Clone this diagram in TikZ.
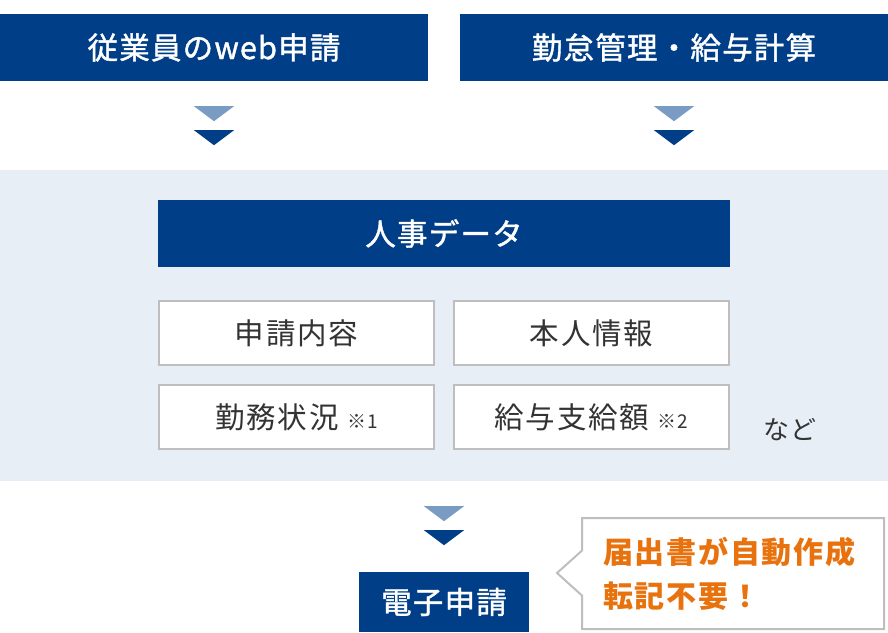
\documentclass[tikz,border=0pt]{standalone}
\usepackage{fontspec}
\setmainfont{Noto Sans CJK JP}[LetterSpace=6]
\newfontfamily\medfont{Noto Sans CJK JP}[LetterSpace=4, FakeBold=1.3]
\usetikzlibrary{positioning,calc,shapes.callouts}
\definecolor{AzulFlujo}{RGB}{0,63,135}
\definecolor{AzulClaro}{RGB}{122,156,196}
\definecolor{PanelFondo}{RGB}{232,238,245}
\definecolor{BordeGris}{RGB}{190,190,190}
\definecolor{TextoGris}{RGB}{51,51,51}
\definecolor{Naranja}{RGB}{232,115,14}
\tikzset{
  headbar/.style={fill=AzulFlujo, text=white, minimum width=#1, minimum height=67,
    inner sep=0pt, font=\medfont\fontsize{30.5}{32}\selectfont},
  headbar/.default=428,
  panelbg/.style={fill=PanelFondo, minimum width=888, minimum height=311, inner sep=0pt},
  itembox/.style={draw=BordeGris, line width=2pt, fill=white, text=TextoGris,
    minimum width=275, minimum height=64, inner sep=0pt, font=\fontsize{29.5}{31}\selectfont},
  notebox/.style={rectangle callout, draw=BordeGris, line width=2pt, fill=white,
    minimum width=302, minimum height=111, inner sep=0pt, callout pointer width=45,
    text=Naranja, align=left, text width=260, font=\fontsize{30}{44}\selectfont\bfseries},
}

\begin{document}
\begin{tikzpicture}[x=1pt, y=-1pt]
  \useasboundingbox (0,0) rectangle (888,632);
  \node[headbar] (web) at (214,47.5) {従業員のweb申請};
  \node[headbar] (kintai) at (674,47.5) {勤怠管理・給与計算};
  \node[panelbg] (panel) at (444,325.5) {};
  \node[headbar=572] (jinji) at (444,233.5) {人事データ};
  \node[itembox] (shinsei) at (296.5,333) {申請内容};
  \node[itembox, right=18pt of shinsei] (honnin) {本人情報};
  \node[itembox, below=18pt of shinsei] (kinmu) {勤務状況 {\fontsize{19}{20}\selectfont ※1}};
  \node[itembox, below=18pt of honnin] (kyuyo) {給与支給額 {\fontsize{19}{20}\selectfont ※2}};
  \node[text=TextoGris, font=\fontsize{26}{28}\selectfont] (nado) at (790,430) {など};
  \node[headbar=170, minimum height=60] (denshi) at (444,602) {電子申請};
  \node[notebox, callout absolute pointer={(557,573)}] (todoke) at (733,573.5)
    {届出書が自動作成\\転記不要！};
  % flechas
  \foreach \src in {web,kintai,panel}{
    \fill[AzulClaro] ($(\src.south)+(-20,25)$) -- ++(40,0) -- ++(-20,15) -- cycle;
    \fill[AzulFlujo] ($(\src.south)+(-20,49)$) -- ++(40,0) -- ++(-20,15) -- cycle;
  }
\end{tikzpicture}
\end{document}
